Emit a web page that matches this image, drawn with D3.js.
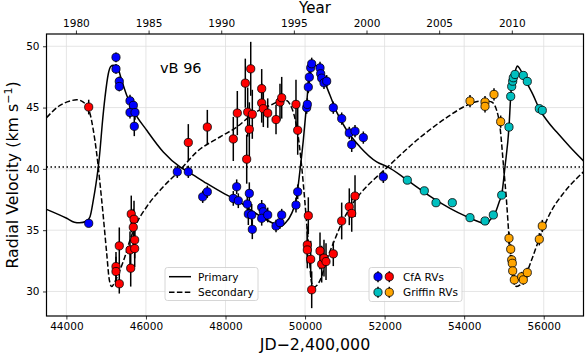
<!DOCTYPE html>
<html>
<head>
<meta charset="utf-8">
<title>vB 96 radial velocities</title>
<script src="https://d3js.org/d3.v7.min.js"></script>
<style>
  body { margin: 0; background: #fff; }
  svg { font-family: "DejaVu Sans", sans-serif; }
  .grid line { stroke: #dedede; stroke-width: 0.8; }
  .tick text { fill: #000; }
  .tick line { stroke: #000; stroke-width: 0.8; }
</style>
</head>
<body>
<svg id="chart" width="585" height="353"></svg>
<script>
// observations: [JD-2400000, RV km/s, error]
const cfaPrimary = [
  [44561, 35.56, 0.3], [45247, 49.10, 0.4], [45247, 48.15, 0.4], [45330, 47.13, 0.4],
  [45330, 46.72, 0.4], [45599, 45.55, 0.5], [45683, 45.18, 0.5], [45599, 44.60, 0.5],
  [45725, 44.60, 0.6], [45707, 43.47, 0.8], [46788, 39.76, 0.5], [47065, 39.76, 0.5],
  [47427, 37.72, 0.5], [47543, 38.13, 0.5], [48196, 37.59, 0.6], [48281, 38.54, 0.6],
  [48322, 37.40, 0.6], [48548, 37.13, 0.7], [48599, 38.00, 0.9], [48574, 36.32, 0.9],
  [48659, 36.24, 0.9], [48674, 35.07, 0.8], [48910, 36.86, 0.6], [48951, 36.50, 0.6],
  [48910, 35.97, 0.6], [49061, 36.24, 0.6], [49270, 35.34, 0.5], [49370, 35.61, 0.5],
  [49413, 36.24, 0.5], [49772, 37.05, 0.6], [49815, 38.13, 0.6], [50041, 44.99, 0.5],
  [50057, 45.26, 0.5], [50082, 46.67, 0.5], [50107, 47.48, 0.5], [50142, 48.24, 0.5],
  [50167, 48.57, 0.5], [50376, 48.24, 0.5], [50393, 47.76, 0.5], [50418, 47.40, 0.5],
  [50476, 47.02, 0.5], [50544, 47.15, 0.5], [50710, 44.99, 0.5], [50921, 44.10, 0.5],
  [51112, 42.93, 0.5], [51256, 43.07, 0.5], [51173, 41.98, 0.6], [51465, 42.55, 0.5],
  [51967, 39.35, 0.5]
];
const cfaSecondary = [
  [44561, 45.04, 0.6], [45247, 32.03, 1.2], [45247, 31.63, 1.2], [45330, 33.72, 1.5],
  [45330, 30.63, 0.8], [45599, 33.39, 1.5], [45617, 31.90, 1.5], [45631, 36.32, 1.5],
  [45700, 35.89, 1.5], [45682, 35.24, 1.5], [45717, 34.20, 1.5], [45717, 33.50, 1.5],
  [47065, 42.15, 1.5], [47543, 43.41, 1.4], [48196, 42.44, 1.8], [48297, 44.55, 1.8],
  [48498, 46.99, 2.0], [48634, 48.16, 2.2], [48558, 44.63, 2.0], [48674, 44.45, 2.0],
  [48599, 43.23, 2.2], [48533, 40.79, 2.0], [48910, 46.54, 1.6], [48910, 45.37, 1.6],
  [48951, 44.91, 1.5], [49061, 44.55, 1.2], [49270, 44.02, 1.2], [49370, 45.45, 1.5],
  [49413, 45.80, 1.7], [49772, 45.26, 2.0], [49815, 43.15, 2.0], [50082, 36.18, 1.5],
  [50057, 33.80, 1.5], [50057, 33.39, 1.5], [50142, 32.63, 1.5], [50167, 30.14, 1.5],
  [50376, 33.31, 1.5], [50418, 32.23, 1.5], [50476, 32.72, 1.5], [50527, 32.44, 1.5],
  [50710, 33.07, 1.0], [50921, 35.75, 1.5], [51112, 36.91, 1.5], [51173, 36.37, 1.5],
  [51256, 37.78, 1.7]
];
const griffinPrimary = [
  [52571, 39.08, 0.2], [52998, 38.21, 0.2], [53292, 37.24, 0.2], [53702, 37.24, 0.2],
  [54147, 36.02, 0.2], [54524, 35.75, 0.2], [54733, 36.24, 0.2], [54944, 37.86, 0.2],
  [55127, 43.41, 0.2], [55170, 45.91, 0.2], [55195, 46.72, 0.2], [55220, 47.15, 0.2],
  [55235, 47.43, 0.2], [55278, 47.70, 0.2], [55487, 47.62, 0.2], [55587, 47.13, 0.2],
  [55889, 44.91, 0.2], [55964, 44.77, 0.2]
];
const griffinSecondary = [
  [54147, 45.53, 0.5], [54524, 45.45, 0.5], [54524, 45.10, 0.5], [54750, 46.07, 0.5],
  [54918, 43.85, 0.5], [55127, 34.34, 0.5], [55170, 33.45, 0.4], [55195, 32.58, 0.4],
  [55210, 32.30, 0.4], [55220, 31.68, 0.4], [55261, 30.95, 0.4], [55445, 31.20, 0.4],
  [55487, 30.95, 0.4], [55587, 31.54, 0.4], [55889, 34.26, 0.5], [55964, 35.34, 0.5]
];

// orbit curves: [JD-2400000, RV]
const primaryCurve = [
  [43500, 36.70], [44008, 35.97], [44200, 35.65], [44330, 35.60], [44510, 35.75],
  [44594, 36.10], [44677, 37.45], [44745, 38.80], [44802, 40.16], [44845, 41.50],
  [44900, 43.60], [44971, 45.85], [45054, 47.76], [45114, 48.35], [45180, 48.45],
  [45280, 48.30], [45391, 47.20], [45516, 46.00], [45707, 44.63], [46019, 43.15],
  [46436, 41.38], [46856, 40.16], [47065, 39.76], [47528, 38.81], [47988, 37.94],
  [48281, 37.46], [48699, 36.50], [49036, 35.83], [49287, 35.42], [49380, 35.30],
  [49496, 35.56], [49664, 36.37], [49790, 37.72], [49873, 39.90], [49956, 42.33],
  [50041, 45.32], [50082, 46.94], [50142, 48.30], [50220, 48.50], [50300, 48.35],
  [50459, 47.35], [50627, 46.00], [50796, 44.63], [51047, 43.15], [51381, 41.79],
  [51801, 40.57], [52077, 40.16], [52513, 39.22], [52806, 38.54], [53225, 37.59],
  [53644, 36.78], [54064, 36.10], [54481, 35.56], [54560, 35.50], [54650, 35.83],
  [54776, 36.37], [54880, 37.30], [54944, 37.90], [55026, 40.16], [55127, 43.41],
  [55170, 45.90], [55195, 46.90], [55278, 47.90], [55336, 48.40], [55400, 48.16],
  [55565, 47.07], [55738, 46.00], [55889, 44.90], [56115, 43.80], [56326, 43.00],
  [56661, 41.79], [57000, 40.65]
];
const secondaryCurve = [
  [43500, 44.18], [43839, 45.18], [44091, 45.53], [44259, 45.64], [44425, 45.45],
  [44594, 44.50], [44677, 43.15], [44762, 41.25], [44845, 38.81], [44928, 36.10],
  [45013, 33.12], [45079, 30.95], [45139, 30.41], [45222, 30.81], [45348, 31.76],
  [45473, 32.85], [45599, 34.20], [45725, 35.28], [46019, 36.91], [46436, 38.54],
  [46856, 39.90], [47276, 41.38], [47862, 42.60], [48281, 43.41], [48699, 44.50],
  [49119, 45.18], [49453, 45.59], [49550, 45.55], [49622, 45.26], [49747, 44.10],
  [49830, 42.60], [49916, 40.16], [49999, 37.19], [50082, 33.94], [50167, 30.68],
  [50230, 30.35], [50300, 30.50], [50376, 30.90], [50544, 32.58], [50710, 33.94],
  [50921, 35.56], [51173, 37.05], [51465, 38.27], [51801, 39.35], [52077, 40.16],
  [52387, 41.11], [52806, 42.33], [53225, 43.41], [53644, 44.37], [54064, 45.18],
  [54399, 45.53], [54550, 45.55], [54692, 45.45], [54818, 44.77], [54901, 43.41],
  [54984, 40.44], [55069, 37.19], [55127, 34.47], [55195, 31.76], [55278, 30.54],
  [55320, 30.41], [55404, 30.54], [55530, 31.22], [55697, 32.58], [55906, 34.47],
  [56158, 36.37], [56493, 38.00], [56828, 39.22], [57000, 39.76]
];

const gamma = 40.15;
const jdTicks = [44000, 46000, 48000, 50000, 52000, 54000, 56000];
const rvTicks = [30, 35, 40, 45, 50];
const yearTicks = [1980, 1985, 1990, 1995, 2000, 2005, 2010];

const pLeft = 46.5, pRight = 583.5, pTop = 34, pBottom = 316;
const svg = d3.select("#chart");

const x = d3.scaleLinear().domain([43500, 57000]).range([pLeft, pRight]);
const y = d3.scaleLinear().domain([28, 51]).range([pBottom, pTop]);

// year axis on top
const jdToYear = jd => 2000 + (jd + 2400000 - 2451545) / 365.25;
const xYear = d3.scaleLinear().domain(x.domain().map(jdToYear)).range(x.range());

// grid
const grid = svg.append("g").attr("class", "grid");
grid.selectAll(".gx").data(jdTicks).join("line")
  .attr("x1", d => x(d)).attr("x2", d => x(d)).attr("y1", pTop).attr("y2", pBottom);
grid.selectAll(".gy").data(rvTicks).join("line")
  .attr("x1", pLeft).attr("x2", pRight).attr("y1", d => y(d)).attr("y2", d => y(d));

// systemic velocity
svg.append("line")
  .attr("x1", pLeft).attr("x2", pRight).attr("y1", y(gamma)).attr("y2", y(gamma))
  .attr("stroke", "#000").attr("stroke-width", 1.5).attr("stroke-dasharray", "1.5,2.5");

const line = d3.line().x(d => x(d[0])).y(d => y(d[1])).curve(d3.curveMonotoneX);
const plot = svg.append("g");
plot.append("path").datum(primaryCurve).attr("d", line)
  .attr("fill", "none").attr("stroke", "#000").attr("stroke-width", 1.5);
plot.append("path").datum(secondaryCurve).attr("d", line)
  .attr("fill", "none").attr("stroke", "#000").attr("stroke-width", 1.5)
  .attr("stroke-dasharray", "5.5,2.4");

function drawPoints(data, color) {
  const g = plot.append("g");
  g.selectAll("line").data(data).join("line")
    .attr("x1", d => x(d[0])).attr("x2", d => x(d[0]))
    .attr("y1", d => y(d[1] - d[2])).attr("y2", d => y(d[1] + d[2]))
    .attr("stroke", "#000").attr("stroke-width", 1.5);
  g.selectAll("circle").data(data).join("circle")
    .attr("cx", d => x(d[0])).attr("cy", d => y(d[1])).attr("r", 4.1)
    .attr("fill", color).attr("stroke", "#000").attr("stroke-width", 0.8);
}
drawPoints(cfaPrimary, "#0000ff");
drawPoints(cfaSecondary, "#ff0000");
drawPoints(griffinPrimary, "#00bfbf");
drawPoints(griffinSecondary, "#ffa500");

// frame
svg.append("rect").attr("x", pLeft).attr("y", pTop)
  .attr("width", pRight - pLeft).attr("height", pBottom - pTop)
  .attr("fill", "none").attr("stroke", "#000").attr("stroke-width", 1.2);

// axes
const fs = "10.5px";
const ax = svg.append("g").attr("transform", `translate(0,${pBottom})`)
  .call(d3.axisBottom(x).tickValues(jdTicks).tickFormat(d3.format("d")).tickSize(3.5).tickPadding(3.5));
const ay = svg.append("g").attr("transform", `translate(${pLeft},0)`)
  .call(d3.axisLeft(y).tickValues(rvTicks).tickSize(3.5).tickPadding(3.5));
const at = svg.append("g").attr("transform", `translate(0,${pTop})`)
  .call(d3.axisTop(xYear).tickValues(yearTicks).tickFormat(d3.format("d")).tickSize(3.5).tickPadding(3.5));
[ax, ay, at].forEach(a => {
  a.select(".domain").remove();
  a.selectAll("text").attr("font-family", "DejaVu Sans, sans-serif").style("font-size", fs);
});

// titles
svg.append("text").attr("x", (pLeft + pRight) / 2).attr("y", 12.5)
  .attr("text-anchor", "middle").style("font-size", "15px").text("Year");
svg.append("text").attr("x", (pLeft + pRight) / 2).attr("y", 349.5)
  .attr("text-anchor", "middle").style("font-size", "15.8px").text("JD\u22122,400,000");
const yl = svg.append("text")
  .attr("transform", `translate(17.5,${(pTop + pBottom) / 2}) rotate(-90)`)
  .attr("text-anchor", "middle").style("font-size", "15.8px");
yl.append("tspan").text("Radial Velocity (km s");
yl.append("tspan").attr("dy", -6).style("font-size", "11px").text("\u22121");
yl.append("tspan").attr("dy", 6).text(")");

svg.append("text").attr("x", 160).attr("y", 72.5)
  .style("font-size", "14.5px").text("vB 96");

// legend: curves
const lg1 = svg.append("g");
lg1.append("rect").attr("x", 165).attr("y", 267.5).attr("width", 93).attr("height", 33)
  .attr("rx", 2.5).attr("fill", "#fff").attr("fill-opacity", 0.8)
  .attr("stroke", "#cccccc").attr("stroke-width", 0.8);
[["Primary", null, 276.7], ["Secondary", "5.5,2.4", 292.3]].forEach(([name, dash, ly]) => {
  lg1.append("line").attr("x1", 169).attr("x2", 191).attr("y1", ly).attr("y2", ly)
    .attr("stroke", "#000").attr("stroke-width", 1.5).attr("stroke-dasharray", dash);
  lg1.append("text").attr("x", 198).attr("y", ly + 3.8).style("font-size", "10.5px").text(name);
});

// legend: observations
const lg2 = svg.append("g");
lg2.append("rect").attr("x", 369).attr("y", 267.5).attr("width", 93).attr("height", 34)
  .attr("rx", 2.5).attr("fill", "#fff").attr("fill-opacity", 0.8)
  .attr("stroke", "#cccccc").attr("stroke-width", 0.8);
[["CfA RVs", ["#0000ff", "#ff0000"], 276.7], ["Griffin RVs", ["#00bfbf", "#ffa500"], 292.3]]
  .forEach(([name, cols, ly]) => {
    cols.forEach((c, i) => {
      const cx = 378 + i * 11.3;
      lg2.append("line").attr("x1", cx).attr("x2", cx).attr("y1", ly - 5.5).attr("y2", ly + 5.5)
        .attr("stroke", "#000").attr("stroke-width", 1.5);
      lg2.append("circle").attr("cx", cx).attr("cy", ly).attr("r", 4.1)
        .attr("fill", c).attr("stroke", "#000").attr("stroke-width", 0.8);
    });
    lg2.append("text").attr("x", 403).attr("y", ly + 3.8).style("font-size", "10.5px").text(name);
  });
</script>
</body>
</html>
